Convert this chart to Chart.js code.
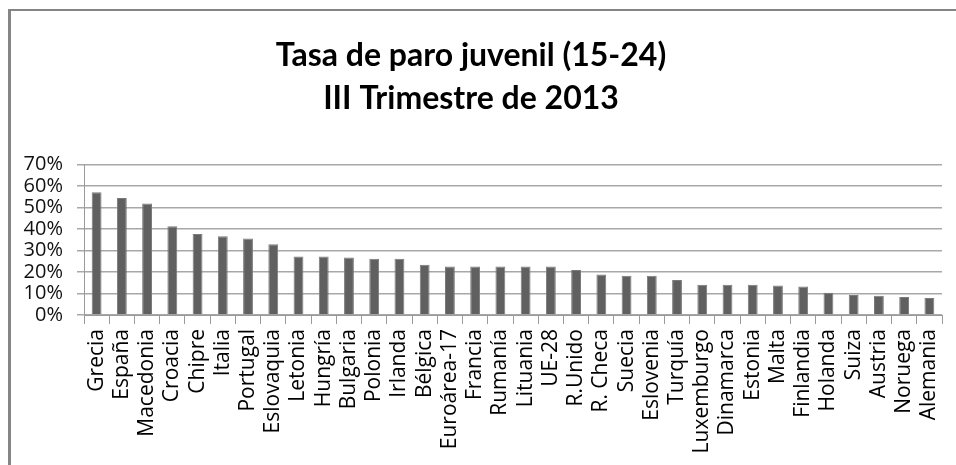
<!DOCTYPE html>
<html>
<head>
<meta charset="utf-8">
<script src="https://cdn.jsdelivr.net/npm/chart.js@4.4.1/dist/chart.umd.min.js"></script>
<style>
    html, body { margin: 0; padding: 0; background: #fff; }
    #wrap { position: relative; width: 956px; height: 465px; overflow: hidden; }
    #frame {
        position: absolute; left: 8px; top: 9px; width: 1000px; height: 500px;
        border-top: 2px solid #858585; border-left: 3px solid #858585;
    }
    #youthChart { position: absolute; left: 0; top: 0; }
</style>
</head>
<body>
<div id="wrap">
    <div id="frame"></div>
    <canvas id="youthChart" width="956" height="465"></canvas>
</div>
<script>
const countries = [
    "Grecia", "España", "Macedonia", "Croacia", "Chipre", "Italia", "Portugal",
    "Eslovaquia", "Letonia", "Hungría", "Bulgaria", "Polonia", "Irlanda", "Bélgica",
    "Euroárea-17", "Francia", "Rumanía", "Lituania", "UE-28", "R.Unido", "R. Checa",
    "Suecia", "Eslovenia", "Turquía", "Luxemburgo", "Dinamarca", "Estonia", "Malta",
    "Finlandia", "Holanda", "Suiza", "Austria", "Noruega", "Alemania"
];

// tasa de paro juvenil, fracción (0.57 = 57%)
const youthRate = [
    0.570, 0.544, 0.518, 0.413, 0.377, 0.366, 0.355,
    0.329, 0.272, 0.272, 0.267, 0.262, 0.262, 0.234,
    0.225, 0.225, 0.225, 0.225, 0.225, 0.209, 0.188,
    0.183, 0.183, 0.163, 0.141, 0.141, 0.141, 0.137,
    0.132, 0.104, 0.093, 0.090, 0.084, 0.079
];

const yMax = 0.7;
const yStep = 0.1;

const titleLines = ["Tasa de paro juvenil (15-24)", "III Trimestre de 2013"];

const ctx = document.getElementById("youthChart");

new Chart(ctx, {
    type: "bar",
    data: {
        labels: countries,
        datasets: [
            {
                label: "Tasa de paro juvenil",
                data: youthRate,
                backgroundColor: "#606060",
                borderColor: "#7a7a7a",
                borderWidth: { left: 1, right: 1, top: 1, bottom: 0 },
                barPercentage: 0.39,
                categoryPercentage: 1.0
            }
        ]
    },
    options: {
        responsive: false,
        animation: false,
        layout: { padding: { left: 0, right: 14, top: 0, bottom: 0 } },
        plugins: {
            legend: { display: false },
            tooltip: { enabled: false },
            title: {
                display: true,
                text: titleLines,
                color: "#000",
                font: { family: "Lato", size: 32, weight: "bold", lineHeight: 1.35 },
                padding: { top: 34, bottom: 44 }
            }
        },
        scales: {
            x: {
                afterFit: (scale) => {
                    scale.height = 150;
                    scale.paddingLeft = 0;
                    scale.paddingRight = 0;
                },
                grid: {
                    offset: true,
                    drawOnChartArea: false,
                    drawTicks: true,
                    tickLength: 9,
                    color: "#9a9a9a"
                },
                border: { color: "#9a9a9a", width: 1 },
                ticks: {
                    autoSkip: false,
                    maxRotation: 90,
                    minRotation: 90,
                    padding: 5,
                    color: "#000",
                    font: { family: "Open Sans", size: 21 }
                }
            },
            y: {
                min: 0,
                max: yMax,
                afterFit: (scale) => { scale.width = 84; },
                grid: {
                    color: "#a8a8a8",
                    lineWidth: 1.5,
                    tickLength: 7
                },
                border: { color: "#9a9a9a", width: 1 },
                ticks: {
                    stepSize: yStep,
                    autoSkip: false,
                    padding: 14,
                    color: "#111",
                    font: { family: "Open Sans", size: 20, lineHeight: 1 },
                    callback: (value) => Math.round(value * 100) + "%"
                }
            }
        }
    }
});
</script>
</body>
</html>
